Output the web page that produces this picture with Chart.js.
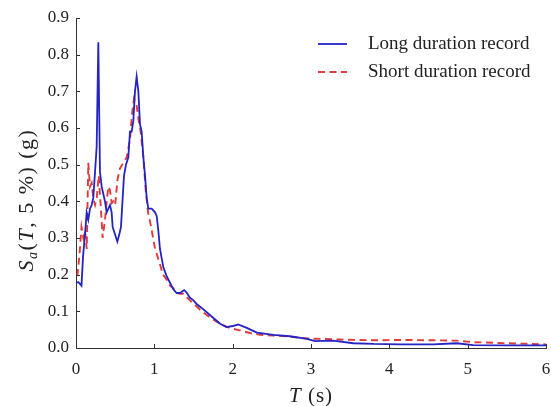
<!DOCTYPE html>
<html><head><meta charset="utf-8">
<script src="https://cdn.jsdelivr.net/npm/chart.js@4"></script>
<style>html,body{margin:0;padding:0;background:#fff}#wrap{width:551px;height:406px;position:relative}</style>
</head><body><div id="wrap"><canvas id="c"></canvas></div>
<script>
// ---- data ----
const seriesNames = ['Long duration record', 'Short duration record'];
const longT  = [0.01,0.03,0.07,0.09,0.115,0.136,0.157,0.179,0.2,0.221,0.243,0.264,0.285,0.306,0.328,0.349,0.37,0.391,0.413,0.434,0.455,0.468,0.498,0.528,0.553,0.574,0.596,0.613,0.638,0.668,0.689,0.711,0.732,0.753,0.774,0.796,0.817,0.838,0.86,0.881,0.902,0.923,0.966,1.009,1.03,1.051,1.072,1.115,1.157,1.2,1.243,1.285,1.33,1.38,1.41,1.455,1.5,1.54,1.6,1.71,1.84,1.92,2.0,2.07,2.18,2.31,2.52,2.73,2.95,3.05,3.28,3.54,3.8,4.14,4.56,4.86,5.07,5.5,6.0];
const longSa = [0.178,0.18,0.17,0.25,0.31,0.37,0.35,0.38,0.39,0.41,0.48,0.55,0.834,0.48,0.44,0.42,0.40,0.37,0.38,0.39,0.37,0.33,0.31,0.29,0.31,0.33,0.41,0.47,0.50,0.52,0.59,0.59,0.62,0.70,0.74,0.70,0.61,0.59,0.52,0.47,0.41,0.38,0.38,0.37,0.36,0.32,0.27,0.22,0.196,0.178,0.16,0.15,0.15,0.158,0.152,0.137,0.13,0.12,0.11,0.09,0.066,0.057,0.06,0.064,0.055,0.042,0.036,0.032,0.025,0.019,0.02,0.013,0.011,0.01,0.01,0.013,0.008,0.007,0.007];
const shortT  = [0.017,0.043,0.07,0.094,0.115,0.137,0.157,0.179,0.2,0.22,0.243,0.265,0.29,0.315,0.34,0.37,0.392,0.413,0.434,0.456,0.477,0.5,0.53,0.562,0.604,0.647,0.69,0.711,0.74,0.775,0.8,0.82,0.86,0.89,0.92,0.95,1.01,1.07,1.11,1.16,1.2,1.24,1.285,1.33,1.37,1.455,1.58,1.71,1.84,1.97,2.09,2.22,2.35,2.52,2.73,2.95,3.37,3.8,4.14,4.56,4.86,5.07,5.5,6.0];
const shortSa = [0.196,0.25,0.33,0.30,0.32,0.27,0.505,0.44,0.45,0.41,0.39,0.41,0.47,0.39,0.30,0.35,0.40,0.44,0.43,0.395,0.40,0.39,0.46,0.49,0.505,0.52,0.57,0.63,0.68,0.66,0.62,0.60,0.52,0.43,0.37,0.34,0.27,0.23,0.20,0.186,0.17,0.164,0.15,0.148,0.148,0.13,0.105,0.083,0.066,0.054,0.048,0.041,0.036,0.034,0.031,0.026,0.023,0.021,0.022,0.021,0.02,0.016,0.013,0.01];
const xTickValues = [0,1,2,3,4,5,6];
const yTickValues = [0,0.1,0.2,0.3,0.4,0.5,0.6,0.7,0.8,0.9];

const BLUE = '#2424c4', RED = '#e03a3a', AX = '#333';
const SERIF = '"Liberation Serif", "DejaVu Serif", serif';

function pts(xs, ys){ return xs.map((x,i)=>({x:x, y:ys[i]})); }

function drawRich(ctx, pieces, cx, cy, rot, spacing){
  ctx.save(); ctx.translate(cx, cy); ctx.rotate(rot);
  let total = 0;
  pieces.forEach(p=>{ ctx.font = p.f; p.w = ctx.measureText(p.t).width + (spacing||0)*p.t.length; total += p.w; });
  let x = -total/2; ctx.textBaseline = 'alphabetic'; ctx.textAlign = 'left'; ctx.fillStyle = '#222';
  pieces.forEach(p=>{
    ctx.font = p.f;
    let xx = x;
    for (const ch of p.t){ ctx.fillText(ch, xx, p.dy||0); xx += ctx.measureText(ch).width + (spacing||0); }
    x += p.w;
  });
  ctx.restore();
}

const deco = {
  id: 'deco',
  afterDraw(chart){
    const ctx = chart.ctx, xs = chart.scales.x, ys = chart.scales.y, a = chart.chartArea;
    ctx.save();
    // inward tick marks
    ctx.strokeStyle = AX; ctx.lineWidth = 1;
    xTickValues.forEach(v=>{ const px = Math.round(xs.getPixelForValue(v))+0.5;
      ctx.beginPath(); ctx.moveTo(px, a.bottom); ctx.lineTo(px, a.bottom-4); ctx.stroke(); });
    yTickValues.forEach(v=>{ const py = Math.round(ys.getPixelForValue(v))+0.5;
      ctx.beginPath(); ctx.moveTo(a.left, py); ctx.lineTo(a.left+4, py); ctx.stroke(); });
    // legend
    const items = [{c:BLUE, dash:[], y:44},{c:RED, dash:[7,4.5], y:72}];
    items.forEach((it,i)=>{
      ctx.strokeStyle = it.c; ctx.lineWidth = 1.8; ctx.setLineDash(it.dash);
      ctx.beginPath(); ctx.moveTo(318, it.y); ctx.lineTo(347, it.y); ctx.stroke();
      ctx.setLineDash([]);
      ctx.fillStyle = '#222'; ctx.font = '19px '+SERIF; ctx.textBaseline = 'middle'; ctx.textAlign = 'left';
      ctx.fillText(seriesNames[i], 368, it.y);
    });
    ctx.restore();
    // axis titles
    drawRich(ctx, [
      {t:'S', f:'italic 22px '+SERIF},
      {t:'a', f:'italic 14px '+SERIF, dy:4},
      {t:'(', f:'22px '+SERIF},
      {t:'T', f:'italic 22px '+SERIF},
      {t:', 5 %) (g)', f:'22px '+SERIF}
    ], 33, 200, -Math.PI/2, 1.5);
    drawRich(ctx, [
      {t:'T', f:'italic 21px '+SERIF},
      {t:' (s)', f:'21px '+SERIF}
    ], (a.left+a.right)/2, 402, 0, 1);
  }
};

new Chart(document.getElementById('c'), {
  type: 'line',
  data: { datasets: [
    { label: seriesNames[0], data: pts(longT, longSa), borderColor: BLUE, borderWidth: 1.8, pointRadius: 0, tension: 0, fill: false },
    { label: seriesNames[1], data: pts(shortT, shortSa), borderColor: RED, borderWidth: 1.9, borderDash: [7,4.5], pointRadius: 0, tension: 0, fill: false }
  ]},
  options: {
    responsive: true, maintainAspectRatio: false, animation: false,
    layout: { padding: { left: 0, right: 5, top: 18, bottom: 0 } },
    plugins: { legend: { display: false }, tooltip: { enabled: false } },
    scales: {
      x: { type: 'linear', min: 0, max: 6,
        afterFit: s => { s.height = 58; s.paddingLeft = 0; s.paddingRight = 0; },
        afterBuildTicks: s => { s.ticks = xTickValues.map(v=>({value:v})); },
        ticks: { font: { family: SERIF, size: 17 }, color: '#222', padding: 11, maxRotation: 0, callback: v => String(v) },
        grid: { display: true, drawOnChartArea: false, drawTicks: false },
        border: { display: true, color: AX, width: 1 }
      },
      y: { type: 'linear', min: 0, max: 0.9,
        afterFit: s => { s.width = 76; s.paddingTop = 0; s.paddingBottom = 0; },
        afterBuildTicks: s => { s.ticks = yTickValues.map(v=>({value:v})); },
        ticks: { font: { family: SERIF, size: 17 }, color: '#222', padding: 7, callback: v => Number(v).toFixed(1) },
        grid: { display: true, drawOnChartArea: false, drawTicks: false },
        border: { display: true, color: AX, width: 1 }
      }
    }
  },
  plugins: [deco]
});
</script></body></html>
